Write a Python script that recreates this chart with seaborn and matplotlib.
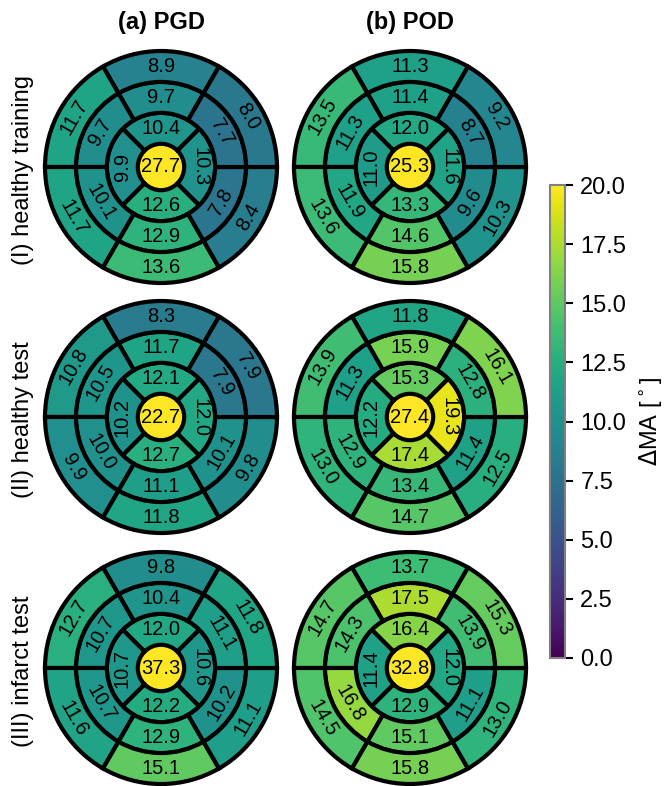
import numpy as np
import matplotlib
matplotlib.use("Agg")
import matplotlib.pyplot as plt
from matplotlib.colors import Normalize
from matplotlib.cm import ScalarMappable
import seaborn as sns


# ============================================================
# DATA  (segment order: counter-clockwise starting at the top)
# ============================================================

ROW_LABELS = ["(I) healthy training", "(II) healthy test", "(III) infarct test"]
COL_TITLES = ["(a) PGD", "(b) POD"]

RING_ANGLES   = [90, 150, 210, 270, 330, 30]   # basal + mid segments
APICAL_ANGLES = [90, 180, 270, 0]              # apical segments

# healthy training
pgd_train_basal  = [8.9, 11.7, 11.7, 13.6, 8.4, 8.0]
pgd_train_mid    = [9.7, 9.7, 10.1, 12.9, 7.8, 7.7]
pgd_train_apical = [10.4, 9.9, 12.6, 10.3]
pgd_train_apex   = 27.7

pod_train_basal  = [11.3, 13.5, 13.6, 15.8, 10.3, 9.2]
pod_train_mid    = [11.4, 11.3, 11.9, 14.6, 9.6, 8.7]
pod_train_apical = [12.0, 11.0, 13.3, 11.6]
pod_train_apex   = 25.3

# healthy test
pgd_test_basal  = [8.3, 10.8, 9.9, 11.8, 9.8, 7.9]
pgd_test_mid    = [11.7, 10.5, 10.0, 11.1, 10.1, 7.9]
pgd_test_apical = [12.1, 10.2, 12.7, 12.0]
pgd_test_apex   = 22.7

pod_test_basal  = [11.8, 13.9, 13.0, 14.7, 12.5, 16.1]
pod_test_mid    = [15.9, 11.3, 12.9, 13.4, 11.4, 12.8]
pod_test_apical = [15.3, 12.2, 17.4, 19.3]
pod_test_apex   = 27.4

# infarct test
pgd_inf_basal  = [9.8, 12.7, 11.6, 15.1, 11.1, 11.8]
pgd_inf_mid    = [10.4, 10.7, 10.7, 12.9, 10.2, 11.1]
pgd_inf_apical = [12.0, 10.7, 12.2, 10.6]
pgd_inf_apex   = 37.3

pod_inf_basal  = [13.7, 14.7, 14.5, 15.8, 13.0, 15.3]
pod_inf_mid    = [17.5, 14.3, 16.8, 15.1, 11.1, 13.9]
pod_inf_apical = [16.4, 11.4, 12.9, 12.0]
pod_inf_apex   = 32.8

PANELS = [
    [(pgd_train_basal, pgd_train_mid, pgd_train_apical, pgd_train_apex),
     (pod_train_basal, pod_train_mid, pod_train_apical, pod_train_apex)],
    [(pgd_test_basal, pgd_test_mid, pgd_test_apical, pgd_test_apex),
     (pod_test_basal, pod_test_mid, pod_test_apical, pod_test_apex)],
    [(pgd_inf_basal, pgd_inf_mid, pgd_inf_apical, pgd_inf_apex),
     (pod_inf_basal, pod_inf_mid, pod_inf_apical, pod_inf_apex)],
]

RADII = np.linspace(0.2, 1, 4)
VMIN, VMAX = 0, 20


# ============================================================
# HELPERS
# ============================================================

def text_rot(deg):
    deg = deg % 360
    if deg <= 180:
        return deg - 90
    return deg - 270


def bullseye(ax, basal, mid, apical, apex, cmap, norm, lw=3, fs=14.5):
    ax.set_ylim(0, 1)
    ax.set_axis_off()

    # apex
    ax.bar(0, RADII[0], width=2 * np.pi, bottom=0,
           color=cmap(norm(apex)), linewidth=0, clip_on=False)
    ax.text(0, 0, f"{apex:.1f}", ha="center", va="center", fontsize=fs)

    rings = [(apical, APICAL_ANGLES, RADII[0], RADII[1], 90),
             (mid, RING_ANGLES, RADII[1], RADII[2], 60),
             (basal, RING_ANGLES, RADII[2], RADII[3], 60)]
    for vals, angs, r0, r1, w in rings:
        for v, a in zip(vals, angs):
            ax.bar(np.deg2rad(a), r1 - r0, width=np.deg2rad(w), bottom=r0,
                   color=cmap(norm(v)), edgecolor="black", linewidth=lw,
                   clip_on=False)
            ax.text(np.deg2rad(a), (r0 + r1) / 2, f"{v:.1f}",
                    ha="center", va="center", rotation=text_rot(a),
                    rotation_mode="anchor", fontsize=fs)


# ============================================================
# PLOT
# ============================================================

sns.set_theme(style="white")
plt.rcParams["font.family"] = ["Liberation Sans", "DejaVu Sans"]
plt.rcParams["text.color"] = "black"
plt.rcParams["axes.labelcolor"] = "black"
plt.rcParams["ytick.color"] = "black"
plt.rcParams["ytick.labelcolor"] = "black"

cmap = sns.color_palette("viridis", as_cmap=True)
norm = Normalize(vmin=VMIN, vmax=VMAX)

W, H = 667, 786
fig = plt.figure(figsize=(W / 100, H / 100), dpi=100)

R = 116
col_x = [161, 410]
row_y = [167, 417, 668]

for i, row in enumerate(PANELS):
    for j, (basal, mid, apical, apex) in enumerate(row):
        cx, cy = col_x[j], row_y[i]
        ax = fig.add_axes([(cx - R) / W, 1 - (cy + R) / H, 2 * R / W, 2 * R / H],
                          projection="polar")
        bullseye(ax, basal, mid, apical, apex, cmap, norm)

for j, t in enumerate(COL_TITLES):
    fig.text(col_x[j] / W, 1 - 23 / H, t, ha="center", va="center",
             fontsize=17, fontweight="bold")

for i, t in enumerate(ROW_LABELS):
    fig.text(23 / W, 1 - (row_y[i] + 3) / H, t, ha="center", va="center",
             rotation=90, fontsize=17)

cax = fig.add_axes([550 / W, 1 - 658 / H, 15 / W, (658 - 185) / H])
cb = fig.colorbar(ScalarMappable(norm=norm, cmap=cmap), cax=cax,
                  ticks=np.arange(0, 20.1, 2.5), format="%.1f")
cb.outline.set_edgecolor("grey")
cb.outline.set_linewidth(1.5)
cax.tick_params(length=6, width=1.5, labelsize=17, color="black", pad=5)
cb.set_label(r"$\Delta$MA [$^\circ$]", fontsize=17, labelpad=8)

fig.savefig("out.png", dpi=100)
